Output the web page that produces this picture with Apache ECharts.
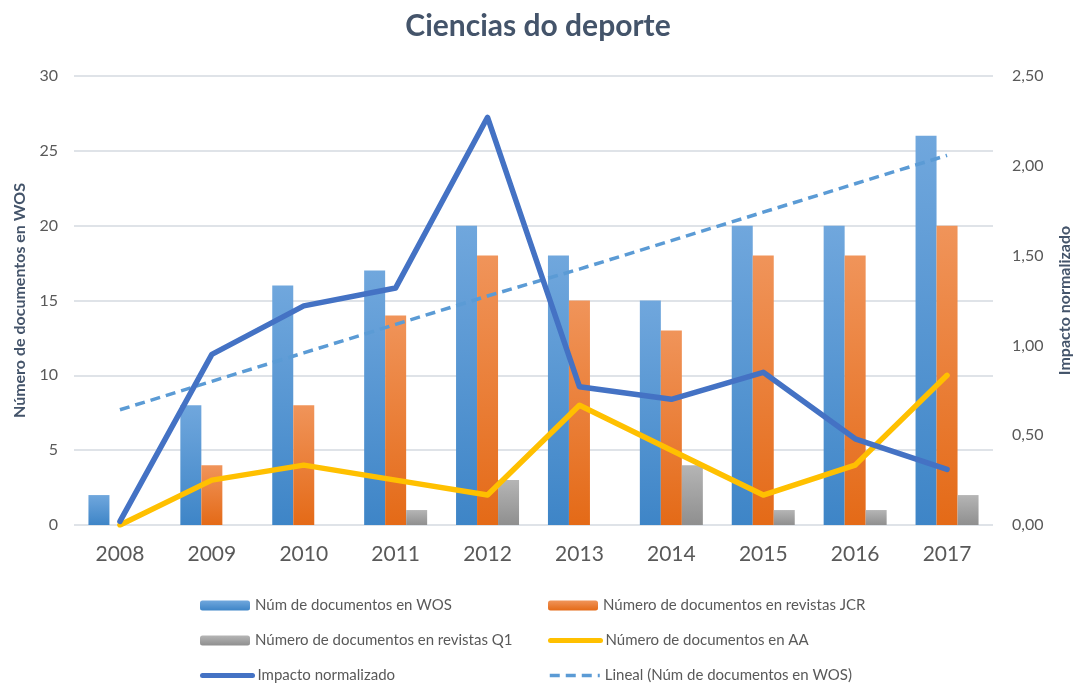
<!DOCTYPE html>
<html>
<head>
<meta charset="utf-8">
<script src="https://cdn.jsdelivr.net/npm/echarts@6/dist/echarts.min.js"></script>
<style>
  html, body { margin: 0; padding: 0; background: #fff; }
  #main { width: 1076px; height: 686px; }
</style>
</head>
<body>
<div id="main"></div>
<script>
// datos leidos do grafico
const years = ["2008", "2009", "2010", "2011", "2012", "2013", "2014", "2015", "2016", "2017"];
const wosDocs = [2, 8, 16, 17, 20, 18, 15, 20, 20, 26];
const jcrDocs = [0, 4, 8, 14, 18, 15, 13, 18, 18, 20];
const q1Docs = [0, 0, 0, 1, 3, 0, 4, 1, 1, 2];
const aaDocs = [0, 3, 4, 3, 2, 8, 5, 2, 4, 10];
const impacto = [0.02, 0.95, 1.22, 1.32, 2.27, 0.77, 0.70, 0.85, 0.48, 0.31];
const linealWos = [7.7, 9.6, 11.5, 13.4, 15.3, 17.1, 19.0, 20.9, 22.8, 24.7];

const font = "Lato, 'Open Sans', sans-serif";
const grad = (top, bottom) => new echarts.graphic.LinearGradient(0, 0, 0, 1, [
  { offset: 0, color: top },
  { offset: 1, color: bottom }
]);

// lenda en dúas columnas, tres filas (nome, columna, fila, grosor da liña)
const legendItems = [
  ["Núm de documentos en WOS", 0, 0, 0],
  ["Número de documentos en revistas JCR", 1, 0, 0],
  ["Número de documentos en revistas Q1", 0, 1, 0],
  ["Número de documentos en AA", 1, 1, 5],
  ["Impacto normalizado", 0, 2, 5],
  ["Lineal (Núm de documentos en WOS)", 1, 2, 3.5]
];
const legends = legendItems.map(([name, col, row, lw]) => ({
  left: col ? 548 : 200,
  top: 598 + row * 35,
  padding: 0,
  itemWidth: 50,
  itemHeight: 10,
  textStyle: { fontSize: 15, color: "#595959" },
  data: [lw ? { name: name, itemStyle: { opacity: 0 }, lineStyle: { width: lw } } : name]
}));

let chart = echarts.init(document.getElementById("main"));

let option = {
  backgroundColor: "#fff",
  textStyle: { fontFamily: font },
  animation: false,
  title: {
    text: "Ciencias do deporte",
    left: "center",
    top: 6,
    textStyle: { fontSize: 30, fontWeight: "bold", color: "#44546a", fontFamily: font }
  },
  legend: legends,
  grid: { left: 74, right: 83, top: 76, bottom: 161, outerBoundsMode: "none" },
  xAxis: {
    type: "category",
    data: years,
    axisLine: { show: false },
    axisTick: { show: false },
    axisLabel: { fontSize: 21, color: "#595959", margin: 19 }
  },
  yAxis: [
    {
      type: "value",
      min: 0,
      max: 30,
      interval: 5,
      name: "Número de documentos en WOS",
      nameLocation: "middle",
      nameGap: 46,
      nameTextStyle: { fontSize: 16, fontWeight: "bold", color: "#44546a" },
      axisLabel: { fontSize: 16, color: "#595959", margin: 16 },
      splitLine: { lineStyle: { color: "#dfe3e8", width: 2 } }
    },
    {
      type: "value",
      min: 0,
      max: 2.5,
      interval: 0.5,
      name: "Impacto normalizado",
      nameLocation: "middle",
      nameGap: 64,
      nameRotate: 90,
      nameTextStyle: { fontSize: 16, fontWeight: "bold", color: "#44546a" },
      axisLabel: {
        fontSize: 16,
        color: "#595959",
        margin: 19,
        formatter: v => v.toFixed(2).replace(".", ",")
      },
      splitLine: { show: false }
    }
  ],
  series: [
    {
      name: "Núm de documentos en WOS",
      type: "bar",
      data: wosDocs,
      barWidth: 21,
      barGap: "0%",
      itemStyle: { color: grad("#70a7dd", "#3e85c7") }
    },
    {
      name: "Número de documentos en revistas JCR",
      type: "bar",
      data: jcrDocs,
      barWidth: 21,
      barGap: "0%",
      itemStyle: { color: grad("#f0945a", "#e46a17") }
    },
    {
      name: "Número de documentos en revistas Q1",
      type: "bar",
      data: q1Docs,
      barWidth: 21,
      barGap: "0%",
      itemStyle: { color: grad("#b5b5b5", "#8f8f8f") }
    },
    {
      name: "Lineal (Núm de documentos en WOS)",
      type: "line",
      data: linealWos,
      symbol: "none",
      z: 3,
      itemStyle: { color: "#5b9bd5" },
      lineStyle: { color: "#5b9bd5", width: 3.5, type: [10, 6] }
    },
    {
      name: "Número de documentos en AA",
      type: "line",
      data: aaDocs,
      symbol: "none",
      z: 4,
      itemStyle: { color: "#ffc000" },
      lineStyle: { color: "#ffc000", width: 5.5, cap: "round", join: "round" }
    },
    {
      name: "Impacto normalizado",
      type: "line",
      yAxisIndex: 1,
      data: impacto,
      symbol: "none",
      z: 5,
      itemStyle: { color: "#4472c4" },
      lineStyle: { color: "#4472c4", width: 5.5, cap: "round", join: "round" }
    }
  ]
};

chart.setOption(option);
</script>
</body>
</html>
